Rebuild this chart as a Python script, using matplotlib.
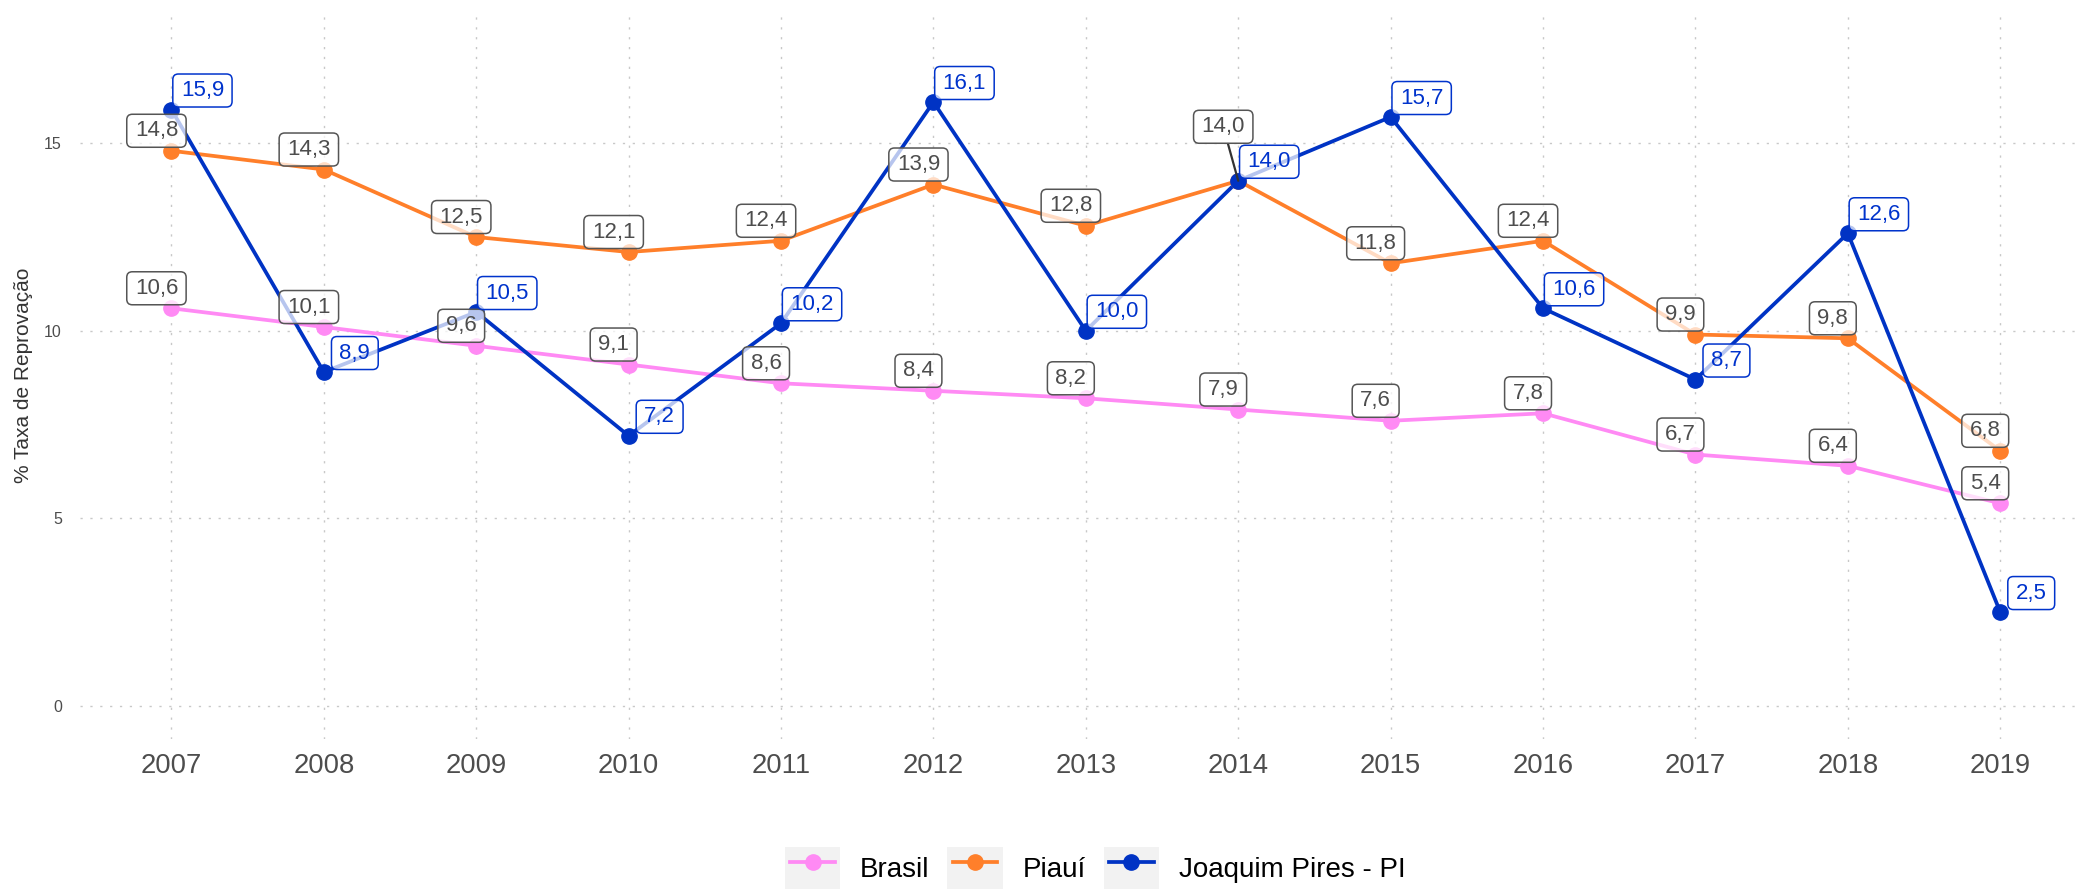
import matplotlib
matplotlib.use("Agg")
import matplotlib.pyplot as plt
from matplotlib.lines import Line2D
from matplotlib.patches import Rectangle, BoxStyle
from matplotlib.legend_handler import HandlerLine2D

plt.rcParams['font.family'] = ['Liberation Sans', 'DejaVu Sans']

anos = [2007, 2008, 2009, 2010, 2011, 2012, 2013, 2014, 2015, 2016, 2017, 2018, 2019]
brasil = [10.6, 10.1, 9.6, 9.1, 8.6, 8.4, 8.2, 7.9, 7.6, 7.8, 6.7, 6.4, 5.4]
piaui = [14.8, 14.3, 12.5, 12.1, 12.4, 13.9, 12.8, 14.0, 11.8, 12.4, 9.9, 9.8, 6.8]
joaquim = [15.9, 8.9, 10.5, 7.2, 10.2, 16.1, 10.0, 14.0, 15.7, 10.6, 8.7, 12.6, 2.5]
y_ticks = [0, 5, 10, 15]

series = [
    ("Brasil", brasil, "#FF8AF4"),
    ("Piauí", piaui, "#FF7F2A"),
    ("Joaquim Pires - PI", joaquim, "#0033C4"),
]

# labels pushed away from a crowded point (series, year) -> extra lift in px
extra_lift = {("Piauí", 2014): 34}

_round = BoxStyle.Round(pad=0, rounding_size=0.25)


def label_box(x0, y0, width, height, mutation_size):
    px, py = 8, 6
    return _round(x0 - px, y0 - py, width + 2 * px, height + 2 * py, mutation_size)


def fmt(v):
    return f"{v:.1f}".replace(".", ",")


class KeyHandler(HandlerLine2D):
    # legend key with a light grey square behind the line + point
    def get_xdata(self, legend, xdescent, ydescent, width, height, fontsize):
        inset = 0.1 * width
        return ([-xdescent + inset, -xdescent + width - inset],
                [-xdescent + 0.5 * width])

    def create_artists(self, legend, orig_handle, xdescent, ydescent,
                       width, height, fontsize, trans):
        arts = super().create_artists(legend, orig_handle, xdescent, ydescent,
                                      width, height, fontsize, trans)
        bg = Rectangle((-xdescent, -ydescent), width, height,
                       facecolor="#F2F2F2", edgecolor="none", transform=trans)
        return [bg] + list(arts)


fig = plt.figure(figsize=(20.8, 8.9), dpi=100)
ax = fig.add_axes([80 / 2080, 151 / 890, 2000 / 2080, 727 / 890])

handles = []
for name, vals, col in series:
    ax.plot(anos, vals, color=col, lw=2.7, zorder=2)
    ax.plot(anos, vals, 'o', color=col, ms=11, zorder=3)
    handles.append(Line2D([], [], color=col, lw=2.7, marker='o', ms=11))

for name, vals, col in series:
    blue = name.startswith("Joaquim")
    tcol = "#0033CC" if blue else "#4D4D4D"
    ecol = "#0033CC" if blue else "#555555"
    dx, dy = (31, 19) if blue else (-15, 20)
    for a, v in zip(anos, vals):
        lift = extra_lift.get((name, a), 0)
        arrow = None
        if lift:
            arrow = dict(arrowstyle='-', color="#333333", lw=1.6,
                         shrinkA=0, shrinkB=0)
        ax.annotate(fmt(v), xy=(a, v), xytext=(dx, dy + lift),
                    textcoords='offset pixels', ha='center', va='center',
                    fontsize=16, color=tcol, zorder=5, annotation_clip=False,
                    arrowprops=arrow,
                    bbox=dict(boxstyle=label_box, facecolor=(1, 1, 1, 0.72),
                              edgecolor=ecol, linewidth=1.1))

ax.set_xlim(2006.4, 2006.4 + 2000 / 152.4)
ax.set_ylim(-0.885, 18.5)
ax.set_xticks(anos)
ax.set_yticks(y_ticks)
ax.grid(True, color="#C8C8C8", lw=1.0, linestyle=(0, (1.6, 5.5)))
ax.set_axisbelow(True)
for s in ax.spines.values():
    s.set_visible(False)
ax.tick_params(axis='x', length=0, pad=10, labelsize=19.7, labelcolor="#4D4D4D")
ax.tick_params(axis='y', length=0, pad=13, labelsize=11.5, labelcolor="#4D4D4D")

fig.text(24 / 2080, (890 - 375) / 890, "% Taxa de Reprovação", rotation=90,
         ha='center', va='center', fontsize=15, color="#333333")

fig.legend(handles, [s[0] for s in series], loc='center',
           bbox_to_anchor=(1095 / 2080, 22 / 890), ncol=3, frameon=False,
           fontsize=20, handlelength=2.0, handleheight=2.0,
           handletextpad=0.7, columnspacing=0.65, borderpad=0,
           handler_map={Line2D: KeyHandler()})

fig.savefig("out.png", dpi=100)
